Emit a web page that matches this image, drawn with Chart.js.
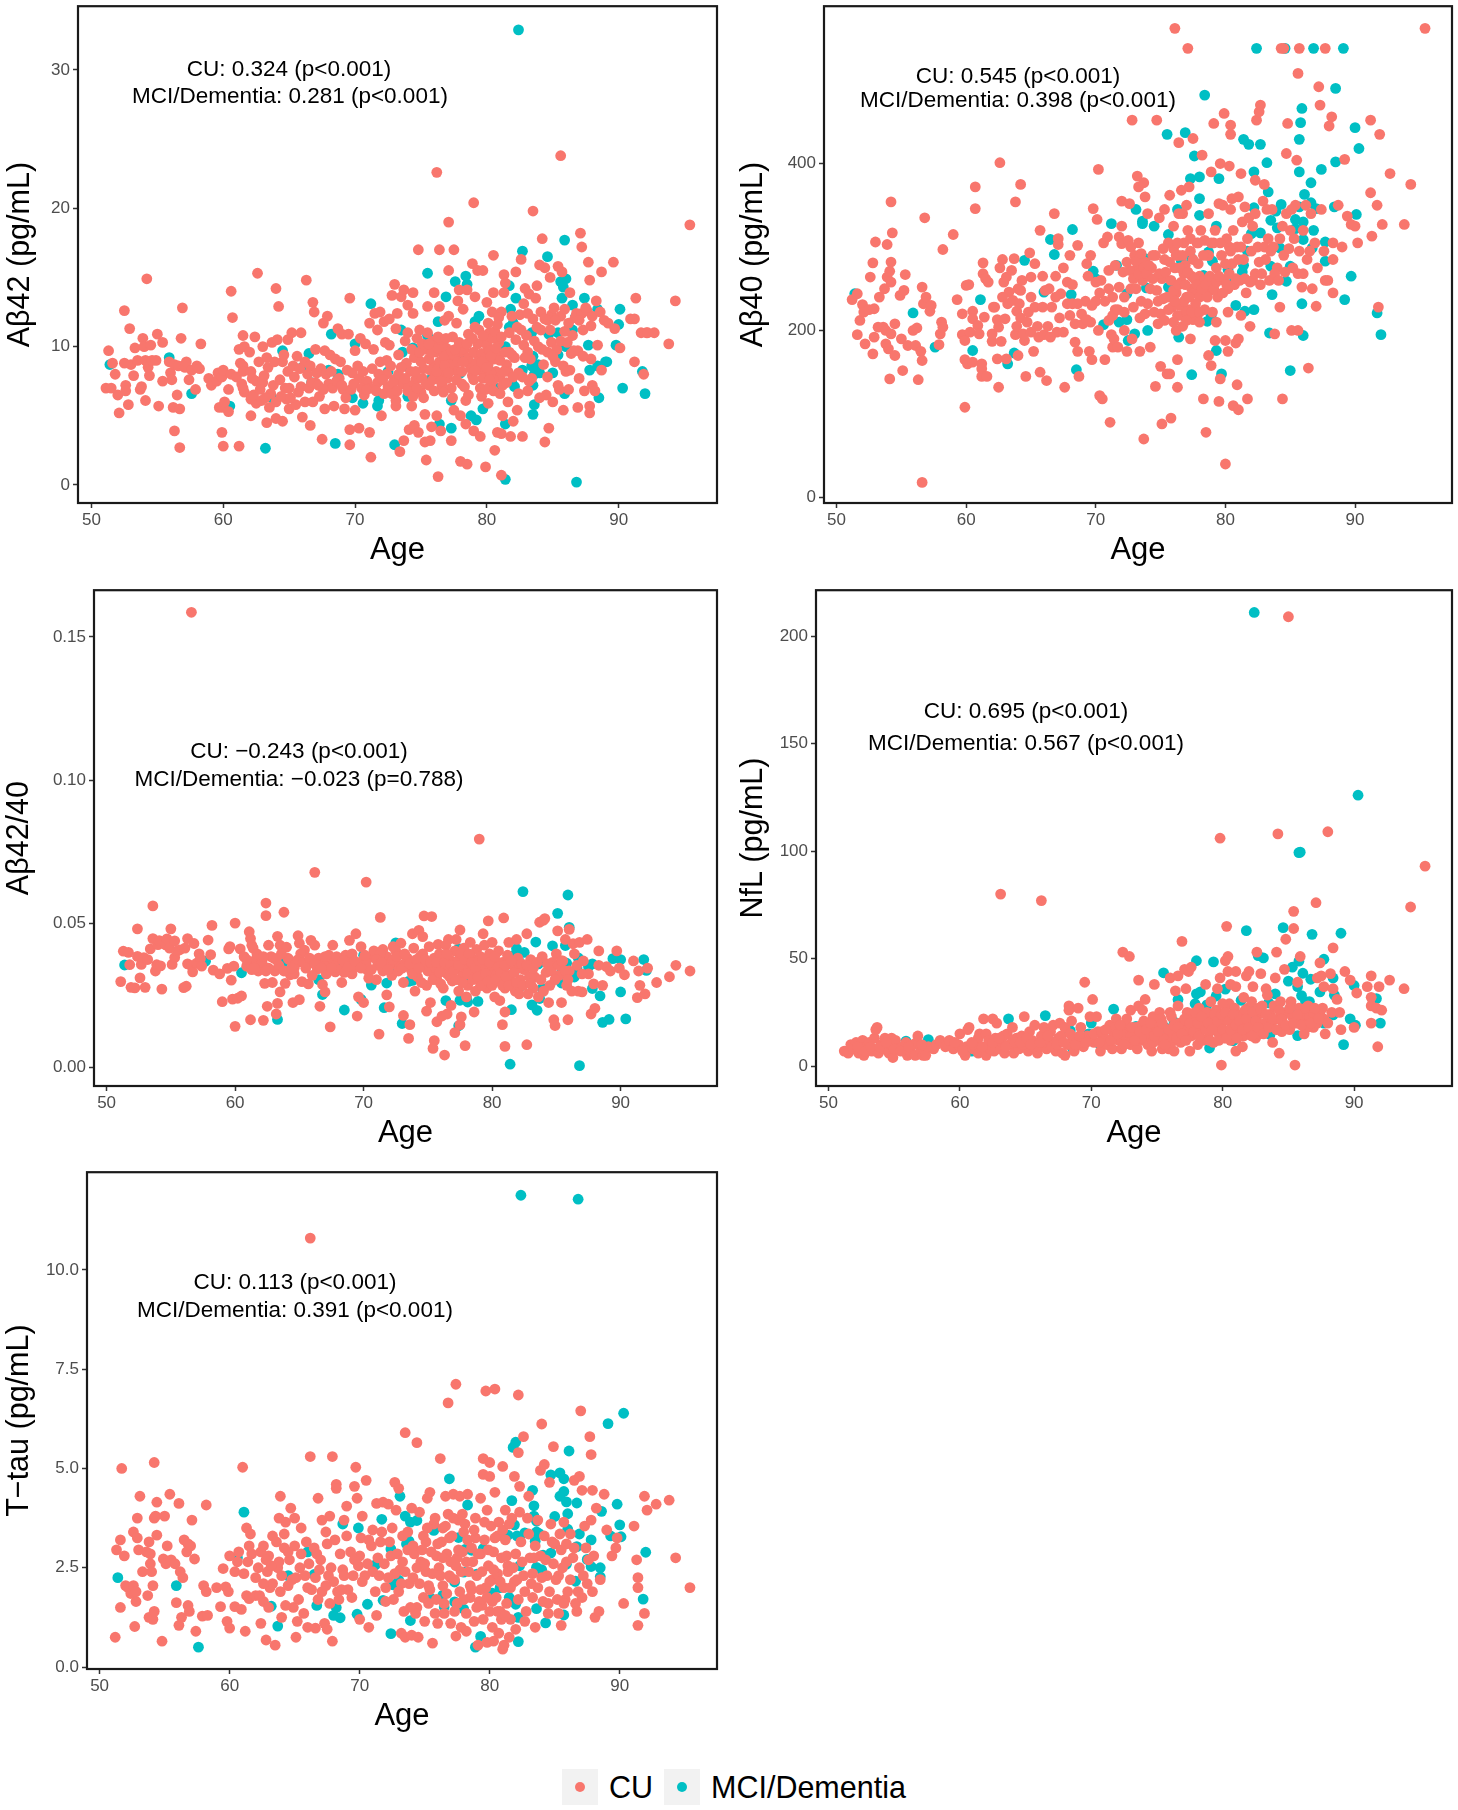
<!DOCTYPE html>
<html>
<head>
<meta charset="utf-8">
<title>Plasma biomarkers by age</title>
<script src="https://cdn.jsdelivr.net/npm/chart.js@4"></script>
<style>
  html, body { margin: 0; padding: 0; background: #fff; }
  body { position: relative; width: 1458px; height: 1810px; overflow: hidden; font-family: "Liberation Sans", sans-serif; }
  canvas { position: absolute; }
  .key { position: absolute; top: 1769px; width: 36px; height: 36px; background: #f2f2f2; }
  .key i { position: absolute; left: 13px; top: 13px; width: 10px; height: 10px; border-radius: 50%; }
  .keytext { position: absolute; top: 1769px; line-height: 36px; font-size: 30.5px; color: #000; }
</style>
</head>
<body>
<div class="key" style="left:562px"><i style="background:#F8766D"></i></div>
<div class="keytext" style="left:609px">CU</div>
<div class="key" style="left:664px"><i style="background:#00BFC4"></i></div>
<div class="keytext" style="left:711px">MCI/Dementia</div>
<script>
const ageTicks = [50, 60, 70, 80, 90];
const abeta42Ticks = [0, 10, 20, 30];
const abeta40Ticks = [0, 200, 400];
const ratioTicks = [0, 0.05, 0.10, 0.15];
const nflTicks = [0, 50, 100, 150, 200];
const ttauTicks = [0, 2.5, 5, 7.5, 10];

// values, [age, value]
const abeta42CU = [
[51.1,7],[51.5,7],[51.3,9.7],[51.6,8.8],[51.8,8],[52,6.5],[52.1,5.2],[52.5,12.6],[52.5,8.8],[52.6,7.2],[52.6,6.8],[52.8,5.8],[52.9,11.3],[53,8.7],[53.3,9.9],[53.5,9],[53.2,7.9],[53.7,6.9],[53.8,7.1],[53.9,10.6],[54,10],[54.1,9],[54.2,14.9],[54.1,6.1],[54.3,8.5],[54.4,7.9],[54.5,10.1],[54.6,9],[54.9,9],[55,10.9],[55.1,5.7],[55.4,10.3],[55.4,7.5],[55.9,8.9],[56,8.1],[56.1,7.6],[56.2,5.6],[56.3,8.7],[56.3,3.9],[56.5,6.5],[56.6,8.6],[56.7,5.5],[56.7,2.7],[56.8,10.6],[56.9,12.8],[57.1,8.5],[57.2,8.9],[57.4,7.6],[57.6,8.3],[57.9,6.9],[58,8.6],[58.2,8.4],[58.3,10.2],
[58.9,7.7],[59.1,7.2],[59.5,7.5],[59.6,8.1],[59.9,7.8],[60,8.3],[59.7,5.6],[59.9,3.8],[60,5.6],[60.1,6],[60,2.8],[60.4,6.9],[60.4,5.3],[60.6,14],[60.6,8],[60.7,12.1],[61,7.8],[61.2,9.8],[61.2,2.8],[61.3,8.8],[61.4,7.3],[61.5,8.6],[61.6,10],[61.6,6.7],[61.5,7],[61.5,8.2],[61.5,10.8],[62,9.6],[62.1,8.2],[62.1,6.2],[62.1,5],[62.4,10.7],[62.2,7.7],[62.5,7.5],[62.6,15.3],[62.5,5.9],[62.7,8.9],[62.9,6.1],[63,10],[63,7.4],[63.3,4.5],[63.3,9.2],[63.4,8.5],[63.7,10.3],[63.8,7.2],[64,14.2],[64.1,10.5],[64,6],[64,4.8],[64.2,12.9],[64.5,8.9],[64.5,4.6],[64.7,7],[64.9,10.5],[64.9,8.2],[65,7],[65,5.5],[65.2,11],[65.5,5.8],[65.6,9.3],[65.9,11],[65.9,7.1],[66,4.9],[66.3,14.8],[66.2,8.9],[66.2,6],[66.6,4.3],[66.6,8.6],[66.8,13.2],[66.8,6],[66.9,12.5],[67,9.8],[67,7.4],[67.4,8.4],[67.5,3.3],[67.6,11.7],[67.7,5.5],[67.7,9.7],[67.9,12.2],
[63.1,7.9],[63.6,6.6],[63.9,8.9],[64.3,7.6],[64.6,9.4],[64.8,6.2],[65.3,8.6],[65.4,7.8],[65.7,6.7],[66.4,8],[66.5,7],[67.1,8.1],[67.3,6.4],[67.8,8],[68,7.3],[68.1,9.4],[68.3,7],[68.4,5.7],[68.5,9.1],[68.7,11.3],[68.8,7.7],[68.9,8.9],[69,10.9],[69.1,6.9],[69.2,5.5],[69.4,8.3],[69.5,10.9],[69.6,13.5],[69.6,4],[69.6,2.9],[69.7,6.9],[69.8,8.1],[70,9.7],[70,5.4],[70.3,7.7],[70.3,4.1],[70.4,10.6],[70.6,8.2],[70.7,6.5],[70.8,10.2],[70.9,7.5],[71.1,11.7],[71.2,7],[71.1,3.8],[71.2,2],[71.4,9.8],[71.5,12.4],[71.7,11.2],[71.7,7.4],[71.9,8.9],[71.9,12.5],[72,5],[72.2,11.8],[72.3,10.3],[72.4,8],[72.5,7.1],[72.6,10.1],[72.6,12],[72.8,13.7],[73,14.5],[73,7.6],[73.1,11.3],[73.1,5.7],[73.1,6.1],[73.2,12.4],[73.3,9.4],[73.4,2.4],[73.5,13.6],[73.6,7.3],[73.7,14.1],[73.7,3.2],[73.8,10.4],[74,11],[74,13],[74.1,4],[74.2,8.2],[74.3,5.7],[74.4,12.4],[74.4,13.9],[74.5,4.3],[74.5,9.2],[74.6,7.6],[74.7,10.6],[74.8,17],[74.8,3.8],[74.9,11.2],[75,6.7],[75.2,8.4],[75.3,3.1],[75.4,9.8],[75.3,5.1],[75.4,1.8],[75.5,12.9],[75.5,11],[75.6,7.2],[75.7,3.2],[75.8,4.2],[75.9,10.4],[76,13.9],[76,8.6],[76.1,9.6],[76.2,22.6],[76.2,5],[76.3,0.6],[76.4,17],[76.4,12.9],[76.5,3.9],[76.6,10.1],[76.6,7.2],[76.7,9.4],[76.8,11.9],[76.9,8.2],[76.9,9.9],[77.1,19],[77.1,15.5],[77.1,12.2],[77.2,9.3],[77.3,3.2],[77.3,7],[77.4,10.7],[77.5,17],[77.5,5.4],[77.6,8.3],[77.7,11.7],[77.9,14.1],[77.8,13.3],[78,9.6],[78,5],[78,1.7],[78.1,7.3],[78.2,12.7],[78.4,4.4],[78.4,6.1],[78.5,1.5],[78.5,14.1],[78.6,10.9],[78.7,8.7],[78.9,16],[78.9,7.9],[79,20.4],[79,3.9],[79.1,13.6],[79.1,11.4],[79.3,15.5],[79.4,9.3],[79.5,3.5],[79.6,6.4],[79.7,15.5],[79.8,10.4],[79.9,1.3],[79.9,8.1],[80,13.2],[80.1,5.9],[80.2,11],[80.3,7.3],[80.4,12.5],[80.5,16.6],[80.5,13.9],[80.6,9.1],[80.6,2.5],[80.7,8.2],[80.8,3.8],[80.9,10.3],[81,7.8],[81.1,12.5],[81.1,3.7],[81.1,0.7],[81.2,5],[81.3,13.9],[81.3,15.2],[81.4,14.6],[81.5,8.7],[81.6,6],[81.7,11],[81.8,3.5],[82,4.6],[82.1,9.2],[82.2,15.4],[82.3,5.4],[82.5,12.3],[82.6,16.3],[82.7,3.5],[82.7,7.8],[82.8,13.1],[82.9,14.2],[83,10.8],[83.1,6.8],[83.2,13.8],[83.3,9.1],[83.5,19.8],[83.5,12],[83.7,13.5],[83.8,14.4],[84,15.9],[84.1,11.2],[84.2,17.8],[84.4,15.7],[84.4,3.1],[84.5,6.5],[84.6,9.6],[84.7,4.1],[84.8,15],[84.9,12.3],[85,6],[85.2,8.9],[85.4,15.8],[85.5,6.9],[85.6,23.8],[85.7,15.4],[85.8,5.4],[85.9,11.1],[86,8.2],[86.2,6.9],[86.3,13.9],[86.4,9.5],[86.7,12.1],[86.9,5.6],[86.9,9.7],[87,7.7],[87.1,18.2],[87.2,17.2],[87.3,11.2],[87.4,6.8],[87.7,16.1],[87.8,14.8],[87.8,5.7],[87.8,5.2],[87.9,9.1],[88,7.2],[88.2,6.8],[88.3,13.3],[88.4,10.1],[88.7,15.4],[88.7,8.3],[88.9,11.9],[89.2,11.7],[89.6,16.1],[89.7,11.3],[90.1,9.9],[90.9,12],[91.2,12],[91.2,8.9],[91.3,13.5],[91.9,8],[91.7,11],[92.1,11],[92.2,11],[92.7,11],[93.8,10.2],[94.3,13.3],[95.4,18.8],
[72.7,8.6],[72.9,7.4],[73.3,8],[73.9,8.8],[74.1,7.2],[74.6,8.2],[75,8.9],[75.1,7.7],[75.6,9.1],[75.7,8.3],[75.8,9.6],[76.1,7.8],[76.3,9.9],[76.4,8.9],[76.5,10.5],[76.7,8],[76.8,9.3],[77,7.7],[77.2,8.7],[77.5,9.4],[77.8,8.9],[78.1,8.2],[78.3,9.8],[78.6,9.2],[78.8,8.4],[79,9.6],[79.2,8.8],[79.3,10.2],[79.5,8.3],[79.6,9.5],[79.7,7.7],[79.9,9.2],[80,10.1],[80.1,8.7],[80.2,9.7],[80.3,8.1],[80.4,10.6],[80.5,7.6],[80.6,11.1],[80.8,9.4],[80.9,12.1],[81,9],[81.2,7.2],[81.4,9.6],[81.6,8.2],[81.9,9.4],[82.3,11.4],[82.4,8.1],[82.8,10.1],[83.1,9.6],[83.4,7.7],[83.8,11.4],[84.1,12.5],[84.3,8.7],[84.6,11.9],[84.9,10.3],[85.1,12.8],[85.3,9.8],[85.6,12.2],[85.9,12.7],[86.2,11.7],[86.5,10.8],[86.8,12.4],[87.2,12.4],[87.6,12.6],[88,12.2],[88.6,12.5],
[62.3,6.5],[62.8,6.9],[63.2,6.3],[63.5,5.6],[64.4,6.4],[65.1,6.3],[65.8,8.4],[66.7,7.4],[67.2,7.2],[67.6,6.9],[68.2,8.2],[68.6,7.5],[69,7.2],[69.3,6.3],[69.9,7.3],[70.2,8.6],[70.5,7],[70.9,6.9],[71.3,8.4],[71.6,6.8],[71.8,8],[72.1,7.6],[72.2,6.6],[72.4,9],[72.8,6.6],[73.2,6.8],[73.5,8.5],[73.8,7.7],[74,6.8],[74.3,9.8],[74.4,6.4],[74.7,7],[74.9,9.6],[75.1,10.2],[75.2,6.3],[75.4,7.3],[75.6,10.2],[75.9,7.6],[76,6.8],[76.2,8.2],[76.3,10.7],[76.5,7.5],[76.7,6.7],[76.8,8.6],[76.9,10.6],[77.1,8.1],[77.3,9.7],[77.4,6.3],[77.6,9.8],[77.7,7.6],[77.9,10.3],[78.2,8.9],[78.3,7.1],[78.5,10.2],[78.6,6.5],[78.9,10.6],[79,7.6],[79.1,8.3],[79.4,11.2],[79.5,7],[79.6,8.9],[79.7,10.8],[79.9,6.9],[80,8.5],[80.1,11.7],[80.2,7.6],[80.3,9.3],[80.5,6.8],[80.7,9.9],[80.8,11.6],[81,6.6],[81.1,10.7],[81.3,8.2],[81.5,7.4],[81.7,9.6],[81.9,12.2],[82,7.8],[82.2,10.5],[82.4,6.6],[82.6,11.2],[82.9,9.2],[83.1,12.4],[83.2,7.5],[83.6,10.4],[83.9,10],[84,6.3],[84.2,9.8],[84.4,12],[84.6,7.8],[84.8,11.2],[85,9.3],[85.2,11.9],[85.4,7.2],[85.6,10.4],[85.8,8.6],[86.1,10.3],[86.3,8.3],[86.6,9.7],[87,11.9],[87.3,9.3],[87.5,12.8],[87.9,11.5]
];
const abeta42MCI = [
[51.4,8.7],[55.9,9.2],[57.6,6.6],[60.5,5.7],[63.7,6.3],[63.2,2.65],[64.5,9.7],[66,8.5],[66.5,9.5],[66.7,7.4],[68,8.3],[68.2,10.9],[68.5,3],[68.7,8],[69.8,6.3],[70,10.2],[70.6,5.9],[71.2,13.1],[71.7,5.7],[71.8,6.1],[73,2.9],[72.5,8.2],[73.5,11.2],[73.6,9.6],[73.8,8.6],[74,6.4],[74.4,9.9],[75.5,15.3],[75.5,10.8],[75.7,7.6],[76.4,4.4],[76.4,8.6],[76.3,11.8],[76.9,13.6],[77.3,6.1],[77.3,4.1],[77.3,8.9],[77.6,14.7],[78.4,15.1],[78.5,14.5],[78,10.1],[78,9.3],[78,8.1],[78.8,5],[79.2,4.7],[79.1,11.8],[79.4,12.2],[79.7,5.5],[80.2,8.2],[80.7,7],[81.4,10],[81.4,4.4],[81.4,0.4],[82.4,32.9],[81.7,14.4],[82.2,13.5],[81.8,12.7],[81.7,11.4],[82,11.7],[81.9,7.4],[82.1,7.1],[82.7,16.9],[82.7,8.3],[83.4,11],[83.5,9.3],[83.4,8.6],[83.6,8],[83.5,7.2],[83.5,5.1],[83.6,5.8],[83.9,8.7],[84,8.1],[84.6,16.5],[84.7,10.9],[85,8.1],[85.4,11],[85.4,9.4],[85.6,14.7],[85.9,17.7],[86,14.9],[85.8,14.3],[85.7,13.5],[85.9,6.6],[86,10],[86.5,13],[86.5,11.2],[86.8,0.2],[86.7,12.1],[86.2,11.2],[87.4,13.5],[87.7,10.1],[87.8,8.3],[88.4,12.7],[88.5,6.3],[88.4,8.6],[89.1,8.9],[89,8.9],[89.8,10.1],[90,11.6],[90.1,12.7],[90.3,7],[91.8,8.2],[92,6.6]
];
const abeta40CU = [
[51.2,237],[51.6,244],[51.6,195],[51.8,212],[52,231],[52.1,222],[52.2,184],[52.5,225],[52.6,264],[52.8,281],[52.8,172],[52.9,192],[52.9,226],[53,306],[53.2,204],[53.3,240],[53.6,204],[53.7,250],[53.8,200],[53.8,184],[53.9,303],[53.9,264],[54,178],[54.1,271],[54.1,142],[54.2,282],[54.2,196],[54.2,258],[54.2,354],[54.3,317],[54.5,170],[54.5,208],[54.9,242],[55,190],[55.1,152],[55.2,248],[55.3,267],[55.5,182],[55.9,200],[56.1,182],[56.2,203],[56.3,141],[56.5,175],[56.6,252],[56.6,18],[56.6,164],[56.7,232],[56.8,335],[56.9,240],[57.2,223],[57.3,230],[57.9,183],[58,196],[58.1,210],[58.2,204],[58.2,297],[59,315],[59.3,237],[59.7,220],[59.7,195],[59.9,188],[59.9,165],[59.9,108],[60,254],[60.1,160],[60.2,255],[60.3,198],[60.5,162],[60.5,223],[60.5,214],[60.7,372],[60.7,346],[60.9,206],[61,196],[61.2,160],[61.2,154],[61.2,145],[61.3,268],[61.3,281],[61.4,216],[61.5,262],[61.6,145],[61.7,258],[62,187],[62,196],[62.1,228],[62.2,228],[62.4,213],[62.4,166],[62.5,204],[62.5,132],[62.6,275],[62.6,401],[62.7,187],[62.8,285],[62.9,258],[63,214],[63.1,264],[63.1,166],[63.3,246],[63.5,272],[63.7,286],[63.8,195],[63.8,354],[63.9,223],[64,250],[64,170],[64.2,215],[64.2,248],[64.2,375],[64.3,260],[64.5,188],[64.6,145],[64.7,210],[64.9,293],[65,240],[65,264],[65.2,175],[65.3,280],[65.5,205],[65.7,150],[65.7,320],[65.9,265],[66,195],[66.2,140],[66.3,205],[66.4,250],[66.6,228],[66.8,340],[66.9,265],[67,198],[67.1,310],[67.1,303],[67.3,244],[67.5,275],[67.6,132],[67.8,258],[68,218],[68,290],[68.2,255],[68.4,186],[68.4,208],[68.6,302],[68.6,175],[68.7,145],[69,208],[69.2,235],[69.3,280],[69.4,265],[69.5,175],[69.6,290],[69.6,210],[69.7,165],[69.8,346],[70,235],[70.1,333],[70.2,200],[70.2,393],[70.3,122],[70.5,118],[70.6,305],[70.7,165],[70.9,312],[71,212],[71.1,90],[71.2,195],[71.3,180],[71.4,190],[71.5,225],[71.5,278],[71.7,180],[71.8,312],[72,304],[72,325],[72,355],[72.1,270],[72.2,200],[72.4,175],[72.5,308],[72.6,352],[72.7,250],[72.8,190],[72.8,452],[73,270],[73.1,250],[73.2,385],[73.3,372],[73.3,305],[73.4,175],[73.5,235],[73.7,377],[73.7,70],[73.8,360],[73.8,220],[74,340],[74.2,180],[74.4,290],[74.6,133],[74.7,452],[74.8,208],[74.9,335],[75,157],[75.1,88],[75.2,238],[75.3,345],[75.5,148],[75.7,362],[75.7,148],[75.8,95],[76,298],[76.1,562],[76.2,200],[76.3,132],[76.3,165],[76.4,425],[76.6,368],[76.7,340],[76.8,268],[77,350],[77.1,538],[77.2,372],[77.3,190],[77.4,250],[77.5,430],[77.8,215],[78,265],[78.2,410],[78.3,118],[78.4,308],[78.5,78],[78.7,170],[78.7,290],[78.9,158],[78.9,390],[79.1,448],[79.2,188],[79.3,210],[79.5,115],[79.6,142],[79.6,400],[79.8,350],[79.9,460],[80,40],[80,188],[80.2,175],[80.3,300],[80.3,397],[80.4,446],[80.4,435],[80.5,358],[80.6,110],[80.8,185],[80.9,135],[81,105],[81,190],[81.2,388],[81.5,348],[81.7,118],[81.9,205],[82.3,380],[82.4,452],[82.6,462],[82.7,470],[83,375],[83.3,310],[83.8,196],[84.2,228],[84.4,118],[84.3,538],[84.5,538],[84.7,412],[84.8,448],[85.1,200],[85.6,200],[85.6,508],[85.7,538],[85.5,404],[85.9,252],[86.4,155],[86.7,250],[87,229],[87.2,492],[87.3,470],[87.7,538],[87.7,260],[88,445],[88.2,456],[88.3,245],[88.3,305],[89.2,405],[89.4,337],[89.7,327],[90,325],[90.2,305],[91.2,365],[91.2,452],[91.3,313],[91.7,350],[91.8,228],[91.9,435],[92.1,327],[92.7,388],[93.8,327],[94.3,375],[95.4,562],
[70.4,260],[71,272],[71.3,240],[71.8,252],[72.2,240],[72.4,282],[72.7,300],[73,290],[73.2,275],[73.6,260],[73.8,282],[74,265],[74.2,250],[74.3,275],[74.6,290],[74.8,235],[75,220],[75.1,262],[75.3,285],[75.5,240],[75.6,305],[75.8,260],[75.9,228],[76,325],[76.1,275],[76.2,245],[76.3,218],[76.4,340],[76.4,290],[76.5,230],[76.6,258],[76.7,205],[76.8,305],[76.9,278],[77,240],[77.1,320],[77.2,225],[77.3,295],[77.4,265],[77.5,213],[77.6,245],[77.8,305],[77.9,280],[78,240],[78.1,320],[78.3,260],[78.4,225],[78.6,290],[78.7,340],[78.8,248],[79,260],[79.1,305],[79.2,320],[79.3,275],[79.4,240],[79.5,352],[79.7,290],[79.9,260],[80.1,310],[80.2,250],[80.4,345],[80.5,280],[80.7,255],[80.9,300],[81,360],[81.1,260],[81.3,330],[81.4,285],[81.6,245],[81.8,335],[82,295],[82.1,260],[82.3,340],[82.5,300],[82.7,255],[82.9,355],[83.1,285],[83.4,260],[83.6,345],[83.7,300],[84,275],[84.2,310],[84.5,290],[84.7,340],[85,320],[85.2,275],[85.4,350],[85.7,295],[86,320],[86.3,285],[86.6,340],[86.9,305],[87.1,275],[87.4,345],[87.6,295],[87.9,260],[88.3,285],[88.7,350],[89,300],
[62.8,240],[63.2,232],[63.6,236],[63.9,205],[64.1,232],[64.4,196],[64.8,222],[65,198],[65.3,228],[65.6,192],[65.9,228],[66.1,248],[66.5,192],[66.9,240],[67.2,215],[67.5,198],[67.8,232],[68.2,232],[68.6,232],[68.9,220],[69.3,213],[69.7,230],[70,258],[70.3,245],[70.7,235],[71,250],[71.3,218],[71.7,225],[72.2,222],
[72.6,272],[72.9,262],[73.1,283],[73.3,268],[73.5,292],[73.7,275],[73.9,268],[74.1,278],[74.4,262],[74.7,248],[74.9,268],[75.2,298],[75.4,270],[75.6,225],[75.7,282],[75.8,240],[76,248],[76,210],[76.2,290],[76.3,305],[76.4,255],[76.5,275],[76.6,218],[76.7,290],[76.8,235],[76.9,255],[77,222],[77.1,270],[77.2,240],[77.3,310],[77.4,222],[77.5,285],[77.6,262],[77.7,232],[77.8,255],[77.9,305],[78,222],[78.2,250],[78.3,290],[78.5,255],[78.6,240],[78.8,265],[78.9,305],[79.1,250],[79.3,258],[79.5,265],[79.6,305],[79.8,245],[80,280],[80.1,255],[80.3,268],[80.4,295],[80.6,320],[80.8,262],[81,285],[81.2,300],[81.5,262],[81.7,310],[81.9,258],[82.1,325],[82.3,268],[82.6,282],[82.8,268],[83,300],[83.2,345],[83.5,295],[83.8,268],[84.1,260],[84.4,325],[84.6,270],[84.9,298],[85.1,345],[85.3,310],[85.6,268],[86,268],[86.2,350],[86.5,295],[74.5,222],[75.3,212],[74,232],[73.4,215],[72.9,228],[76.1,235],[77,212],[78,210],[79,222],[80.2,222],[81.2,218]
];
const abeta40MCI = [
[51.4,244],[55.9,221],[57.6,180],[60.5,176],[61.1,237],[63.2,160],[63.7,173],[64.5,284],[66,246],[66.5,309],[66.8,291],[68.2,321],[68.1,243],[68.5,153],[69.8,271],[70,262],[70.6,207],[71.2,328],[71.6,278],[71.8,210],[72.4,213],[72.4,244],[72.5,188],[73,196],[73.1,345],[73.6,328],[73.6,331],[73.8,286],[73.9,251],[74,200],[74.5,325],[75.5,435],[75.6,315],[75.6,252],[76.3,345],[76.4,192],[76.9,437],[76.6,283],[77.4,147],[77.4,286],[77.3,382],[77.6,409],[78,384],[78,358],[78,338],[78.4,482],[78.3,266],[77.5,223],[78.6,211],[78.9,218],[78.7,294],[79.3,325],[79.3,176],[79.5,382],[79.7,148],[79,283],[80.2,273],[80.7,260],[80.8,230],[81.4,429],[81.8,423],[81.4,278],[81.3,270],[81.5,223],[81.7,295],[82,316],[82.2,390],[82.2,347],[82.2,225],[82.4,538],[82.7,317],[82.7,423],[83.2,401],[83.3,366],[83.4,197],[83.5,277],[83.6,243],[83.5,332],[83.9,343],[84,323],[84.2,299],[84.3,351],[84.6,538],[84.7,259],[85,277],[85,152],[85.4,333],[85.4,322],[85.7,429],[85.7,348],[85.7,390],[85.8,449],[85.9,466],[85.9,232],[86,194],[86,330],[86.1,363],[86,309],[86.6,353],[86.6,377],[86.8,538],[86.8,320],[86.7,299],[87,346],[87.4,393],[87.7,283],[87.7,306],[88.5,490],[88.5,402],[88.4,348],[89.1,538],[89.2,237],[89.7,265],[90,443],[90.1,339],[90.3,418],[91.7,221],[92,195]
];
const ratioCU = [
[51.1,.0298],[51.3,.0404],[51.7,.04],[51.8,.0357],[51.9,.0278],[52.2,.0276],[52.4,.0386],[52.4,.0482],[52.6,.0311],[52.7,.0358],[52.9,.0382],[53,.0278],[53.2,.0375],[53.4,.0412],[53.6,.0448],[53.6,.0562],[53.8,.0335],[53.9,.0357],[54,.0427],[54.1,.0441],[54.2,.0353],[54.3,.0272],[54.6,.0426],[54.7,.0447],[54.9,.0415],[55,.0482],[55.1,.0358],[55.3,.044],[55.3,.0382],[55.5,.0405],[55.7,.0409],[56,.0277],[56.1,.0415],[56.2,.0282],[56.3,.0448],[56.3,.036],[56.6,.1586],[56.6,.0354],[56.7,.0332],[56.8,.0431],[57,.0362],[57.2,.0395],[57.3,.0378],[57.4,.0352],[57.9,.0443],[58.1,.0392],[58.2,.0494],[58.3,.0338],[58.8,.0325],[59,.0228],[59.4,.0344],[59.5,.0412],[59.6,.042],[59.7,.0303],[59.8,.0237],[59.9,.0352],[60,.0502],[60,.0142],[60.2,.024],[60.4,.0412],[60.5,.0248],[60.7,.0385],[60.9,.0352],[61,.0358],[61.1,.0472],[61.2,.0165],[61.2,.0448],[61.3,.0425],[61.4,.0415],[61.6,.0375],[61.8,.0335],[62,.0345],[62.2,.0163],[62.3,.0292],[62.4,.0572],[62.4,.0528],[62.5,.0212],[62.6,.0425],[62.8,.0385],[62.9,.0295],[63.1,.0335],[63.2,.0185],[63.3,.0222],[63.3,.0456],[63.5,.0425],[63.5,.0262],[63.8,.054],[63.9,.0292],[64,.0418],[64.1,.038],[64.3,.0322],[64.5,.0225],[64.6,.0345],[64.9,.0458],[65,.0432],[65,.0235],[65.2,.0298],[65.4,.0408],[65.7,.029],[65.9,.0442],[66,.0368],[66.2,.0679],[66.2,.0425],[66.4,.0342],[66.6,.0212],[66.8,.0288],[67,.0262],[67.2,.0355],[67.4,.014],[67.6,.0425],[67.8,.0332],[68.1,.0378],[68.3,.0295],[68.6,.039],[68.9,.0442],[69.1,.0325],[69.4,.0465],[69.5,.0178],[69.6,.0245],[69.8,.042],[70,.0225],[70.2,.0645],[70.3,.0338],[70.6,.0385],[71,.0305],[71.2,.0115],[71.3,.0522],[71.5,.041],[71.8,.0252],[72,.021],[72.3,.042],[72.6,.0355],[72.9,.0432],[73.1,.018],[73.5,.01],[73.6,.0148],[73.8,.0465],[74,.0265],[74.3,.0477],[74.6,.0455],[74.7,.0527],[74.9,.0195],[75.2,.0225],[75.3,.0525],[75.4,.0065],[75.5,.0092],[75.7,.0158],[75.8,.0428],[76.1,.0178],[76.3,.0042],[76.5,.0185],[76.6,.0445],[76.8,.0215],[77.1,.012],[77.2,.0445],[77.5,.0478],[77.5,.0148],[77.6,.0175],[77.9,.0075],[78,.0245],[78.3,.0435],[78.6,.0192],[79,.0795],[79.1,.0285],[79.3,.0465],[79.7,.051],[80,.0435],[80.6,.0232],[80.8,.0148],[80.9,.052],[81,.0072],[81,.0192],[81.3,.0435],[81.9,.0445],[82.7,.0078],[82.7,.0465],[83.2,.0275],[83.7,.0505],[84,.0512],[84.1,.0518],[84.4,.0225],[84.8,.0165],[84.9,.0145],[85.1,.0475],[85.4,.0225],[85.7,.0445],[85.9,.0165],[86,.048],[86.3,.043],[86.8,.0435],[87,.0262],[87.4,.0445],[87.7,.0185],[88,.0205],[88.3,.0405],[88.6,.0285],[88.9,.035],[89.2,.0335],[89.7,.0405],[89.9,.0345],[90.3,.0322],[91,.037],[91.3,.0242],[91.4,.0335],[91.5,.0285],[91.9,.0255],[92.1,.0345],[92.8,.0295],[93.8,.0315],[94.3,.0355],[95.4,.0335],
[60.9,.0375],[61.3,.034],[61.7,.0395],[62.1,.0365],[62.6,.0345],[63,.038],[63.4,.0355],[63.8,.0335],[64.2,.0375],[64.7,.036],[65.1,.0395],[65.5,.0345],[66,.032],[66.5,.038],[66.9,.0355],[67.3,.039],[67.7,.0365],[68.2,.034],[68.7,.037],[69.1,.0395],[69.5,.035],[70,.0375],[70.4,.031],[70.8,.0405],[71.1,.0355],[71.5,.0335],[71.8,.0385],[72.2,.032],[72.5,.0405],[72.8,.0355],[73.1,.0295],[73.4,.038],[73.7,.034],[73.9,.0415],[74.2,.0315],[74.4,.0385],[74.7,.0355],[74.9,.0285],[75.1,.042],[75.3,.0335],[75.5,.038],[75.7,.0305],[75.9,.0395],[76.1,.035],[76.2,.0275],[76.4,.0425],[76.5,.0325],[76.7,.0375],[76.9,.03],[77.1,.0405],[77.2,.0345],[77.4,.0265],[77.5,.038],[77.7,.032],[77.8,.0415],[78,.0355],[78.1,.0285],[78.3,.039],[78.4,.033],[78.6,.0375],[78.7,.0265],[78.8,.041],[79,.0345],[79.1,.0385],[79.3,.031],[79.4,.0425],[79.5,.0355],[79.6,.0275],[79.8,.0395],[79.9,.032],[80.1,.0375],[80.2,.0245],[80.3,.034],[80.5,.0405],[80.6,.0305],[80.8,.0365],[81,.0275],[81.2,.039],[81.4,.032],[81.6,.0355],[81.8,.0265],[82,.038],[82.2,.0305],[82.5,.034],[82.8,.0255],[83,.0375],[83.3,.0315],[83.6,.0245],[83.9,.0385],[84.2,.033],[84.5,.0285],[84.7,.0365],[85,.0395],[85.2,.032],[85.5,.037],[85.8,.0285],[86,.0335],[86.4,.0395],[86.7,.0265],[87.1,.037],[87.5,.0325],[87.9,.029],[88.3,.0355],
[62.2,.0385],[64.6,.0325],[67.1,.0325],[68.5,.033],[70.2,.0365],[71.3,.0395],[72,.036],[72.7,.0335],[73.3,.0365],[74,.0345],[74.6,.0395],[75,.0335],[75.6,.0345],[76,.0385],[76.6,.0355],[77.3,.037],[77.9,.0345],[78.5,.0355],[79.2,.0355],[79.7,.0345],[80,.0355],[80.4,.0325],[80.9,.034],[81.5,.0295],[82.1,.0345],[82.9,.0315],
[61.5,.0345],[62.4,.0335],[63.2,.0375],[63.6,.0395],[64.4,.0345],[64.9,.0375],[65.3,.0365],[65.8,.038],[66.2,.036],[66.7,.0345],[67,.0385],[67.5,.0345],[67.9,.0385],[68.4,.037],[68.8,.035],[69.3,.037],[69.8,.0345],[70.1,.039],[70.6,.034],[71,.0375],[71.4,.0365],[71.9,.034],[72.3,.0375],[72.6,.0385],[73,.0345],[73.2,.0395],[73.6,.036],[73.8,.0325],[74.1,.0375],[74.3,.0345],[74.5,.0295],[74.8,.0375],[75.2,.0365],[75.4,.0305],[75.7,.0365],[75.9,.033],[76,.029],[76.3,.0365],[76.5,.0395],[76.7,.0315],[76.8,.0355],[77,.0335],[77.2,.0305],[77.4,.0355],[77.6,.0395],[77.7,.0295],[77.9,.0375],[78.1,.0325],[78.2,.0395],[78.4,.0365],[78.5,.0305],[78.7,.0345],[78.9,.0315],[79,.037],[79.2,.0285],[79.3,.0375],[79.5,.0325],[79.7,.03],[79.8,.0365],[80,.0285],[80.2,.0385],[80.3,.0305],[80.5,.035],[80.7,.033],[80.8,.0285],[81,.0355],[81.1,.0315],[81.3,.0285],[81.5,.037],[81.7,.033],[81.9,.0295],[82.1,.0255],[82.3,.036],[82.4,.0285],[82.7,.0355],[83,.029],[83.2,.0345],[83.5,.0365],[83.8,.0305],[84,.0265],[84.3,.036],[84.6,.0335],[84.9,.0305],[85.2,.0355],[85.4,.037],[85.7,.0335],[85.9,.0305],[86.2,.0265],[86.6,.0355],[87,.0325]
];
const ratioMCI = [
[51.4,.0356],[57.7,.0369],[60.5,.0329],[63.3,.0166],[63.7,.0362],[66.5,.0305],[66.8,.0253],[68.1,.0343],[68.3,.0341],[68.5,.0199],[69.8,.0236],[70,.039],[70.6,.0286],[71.6,.0207],[71.8,.0293],[72.4,.0353],[72.5,.0433],[73,.0152],[73.5,.0299],[73.8,.0302],[75.5,.0343],[76.4,.0232],[77.4,.0413],[77.4,.0144],[77.5,.0233],[78,.0299],[78,.0242],[78.1,.0227],[78.9,.0229],[79.4,.0318],[80.8,.0305],[81.4,.001],[81.5,.02],[81.6,.0388],[81.8,.034],[81.9,.0413],[82.1,.0369],[82.1,.0277],[82.4,.0612],[82.5,.04],[83.1,.0217],[83.4,.0436],[83.6,.036],[83.5,.0198],[83.7,.0239],[83.9,.0274],[84.7,.0423],[85.1,.0536],[85.4,.0329],[85.4,.0293],[85.7,.0424],[85.8,.0362],[85.9,.06],[86,.0487],[86.4,.0314],[86.6,.0347],[86.7,.0381],[86.8,.0005],[87.5,.035],[87.8,.0274],[87.8,.036],[88.4,.0248],[88.6,.0156],[89.1,.0166],[89.4,.0378],[90,.0375],[90,.0262],[90.4,.0168],[91.8,.0375],[92,.0337]
];
const nflCU = [
[51.2,7],[51.5,6],[51.7,10],[51.9,8],[52.1,11],[52.3,6],[52.5,8],[52.6,12],[52.7,5],[52.9,9],[53.1,11],[53.3,7],[53.5,13],[53.6,17],[53.7,18],[53.8,6],[54,10],[54.2,8],[54.3,13],[54.6,6],[54.8,10],[54.8,13],[54.9,4],[55.1,12],[55.3,8],[55.6,9],[55.9,11],[56,5],[56.2,7],[56.4,10],[56.6,5],[56.7,11],[56.8,14],[57,8],[57.2,5],[57.4,5],[57.6,9],[58,8],[58.2,10],[58.5,12],[58.9,9],[59.2,12],[59.5,8],[59.9,10],[60,15],[60.4,5],[60.5,9],[60.6,17],[60.7,18],[61,8],[61.2,11],[61.4,13],[61.4,6],[61.5,15],[61.8,22],[62,15],[62,5],[62.2,9],[62.2,12],[62.5,22],[62.6,7],[62.7,13],[62.8,20],[63,8],[63.1,80],[63.2,11],[63.4,6],[63.6,15],[63.8,10],[64,18],[64.1,6],[64.3,13],[64.5,8],[64.7,14],[64.9,23],[65,10],[65.2,7],[65.3,16],[65.5,12],[65.7,19],[65.9,6],[66,9],[66.2,77],[66.2,14],[66.4,18],[66.6,8],[66.8,12],[66.9,16],[67.1,19],[67.3,7],[67.5,13],[67.6,20],[67.8,6],[68,5],[68,18],[68.2,10],[68.3,28],[68.3,26],[68.5,21],[68.7,7],[68.9,13],[69,27],[69.2,18],[69.4,9],[69.5,39],[69.7,14],[69.9,23],[70.1,31],[70.2,11],[70.4,23],[70.5,16],[70.7,7],[70.9,13],[71.2,10],[71.4,19],[71.6,8],[71.7,15],[71.9,22],[72.1,12],[72.3,8],[72.4,53],[72.6,18],[72.7,22],[72.9,51],[73,10],[73,26],[73.2,15],[73.5,8],[73.6,40],[73.6,28],[73.8,12],[73.8,19],[73.9,26],[74.1,31],[74.3,10],[74.5,16],[74.6,7],[74.7,23],[74.8,38],[75,12],[75.2,25],[75.4,8],[75.5,18],[75.8,14],[75.9,8],[76,25],[76,41],[76.3,7],[76.4,16],[76.4,35],[76.6,28],[76.6,42],[76.8,11],[76.9,58],[77,18],[77.1,45],[77.2,36],[77.3,25],[77.4,44],[77.5,7],[77.6,46],[77.6,14],[77.8,20],[78.1,10],[78.2,27],[78.4,17],[78.6,22],[78.7,38],[78.9,13],[79.1,30],[79.4,19],[79.6,36],[79.8,41],[79.8,106],[79.9,0.5],[80,24],[80.1,13],[80.2,49],[80.3,65],[80.4,51],[80.4,44],[80.5,29],[80.6,38],[80.8,16],[81,7],[81,44],[81,37],[81.2,22],[81.5,9],[81.6,32],[81.8,42],[81.9,15],[82,44],[82.3,37],[82.5,13],[82.6,53],[82.7,27],[82.9,43],[83,17],[83.3,36],[83.6,24],[83.8,11],[84,41],[84.1,53],[84.2,108],[84.3,6],[84.5,16],[84.7,45],[84.8,59],[85,209],[85.2,30],[85.4,64],[85.4,72],[85.5,0.5],[85.7,39],[85.9,51],[86,22],[86.2,15],[86.5,28],[86.9,18],[87.1,76],[87.2,41],[87.4,48],[87.5,42],[87.6,27],[87.7,37],[87.8,15],[88,109],[88.2,43],[88.4,36],[88.4,55],[88.7,31],[88.9,25],[89,17],[89.3,44],[89.7,40],[90,18],[90.2,34],[91,37],[91.3,20],[91.3,42],[91.3,32],[91.3,28],[91.7,27],[91.8,9],[91.9,37],[92.1,26],[92.7,40],[93.8,36],[94.3,74],[95.4,93],
[71,13],[71.8,18],[72.4,15],[73,14],[73.4,18],[74,21],[74.4,14],[74.9,19],[75.3,22],[75.7,11],[76.2,14],[76.7,20],[77,13],[77.3,17],[77.7,22],[78,15],[78.3,19],[78.5,12],[78.8,25],[79,16],[79.2,21],[79.3,11],[79.5,26],[79.7,15],[79.8,19],[80,29],[80.1,21],[80.3,16],[80.4,24],[80.6,12],[80.7,20],[80.9,27],[81.1,15],[81.2,18],[81.4,24],[81.6,14],[81.7,20],[81.9,27],[82.1,16],[82.2,30],[82.4,19],[82.6,23],[82.8,15],[83,28],[83.2,20],[83.4,33],[83.7,19],[83.9,28],[84.2,22],[84.4,30],[84.6,19],[84.9,25],[85.1,17],[85.3,23],[85.6,20],[85.8,27],[86.1,24],[86.4,18],[86.6,23],[86.9,25],[87.2,20],[87.4,24],[87.7,22],[88,20],[88.3,25],[67.2,11],[67.7,14],[68.6,13],[69.3,11],[70,13],[70.6,11],[64.8,10],[64,12],[63.3,14],[62.3,8],[61,10],[66.4,11],[65.6,9],[72.8,11],[73.8,13],[74.7,11],[75.5,13],[76.1,11],[76.8,14],
[52.2,9],[52.8,7],[53.2,9],[53.9,9],[54.4,11],[55,8],[55.5,7],[56.1,9],[57.1,10],[59.6,11],[60.2,7],[60.9,11],[61.7,9],[62.5,11],[63,13],[63.5,9],[64.2,11],[64.6,11],[65.1,13],[65.4,10],[66.1,11],[66.7,14],[67,9],[67.4,10],[67.9,11],[68.4,15],[68.8,10],[69.1,14],[69.6,11],[70.2,15],[70.8,16],[71.1,17],[71.5,12],[72,15],[72.2,19],[72.5,10],[73.1,18],[73.3,12],[73.7,16],[74.2,17],[74.5,20],[74.8,14],[75.1,16],[75.4,20],[75.6,10],[75.9,17],[76.1,23],[76.3,19],[76.5,13],[76.6,18],[76.9,15],[77.1,22],[77.2,12],[77.5,20],[77.8,16],[77.9,25],[78.1,20],[78.2,14],[78.4,23],[78.7,17],[78.9,20],[79,12],[79.2,17],[79.4,24],[79.6,21],[79.7,12],[79.9,24],[80,17],[80.2,25],[80.3,13],[80.5,21],[80.6,17],[80.8,24],[81,19],[81.1,13],[81.3,21],[81.5,17],[81.7,26],[81.8,22],[82,18],[82.2,14],[82.3,25],[82.5,21],[82.7,18],[82.9,26],[83.1,15],[83.3,24],[83.5,18],[83.8,22],[84.1,17],[84.3,26],[84.5,22],[84.8,19],[85.1,27],[85.4,20],[85.7,24],[86,19],[86.3,27],[86.7,20],[87,27],[87.3,22]
];
const nflMCI = [
[51.4,7],[55.9,11.6],[57.6,12.3],[60.9,7],[63.7,22],[66.5,23.5],[68.1,17],[68.4,16.5],[68.6,8],[69.8,15],[70,20],[70.6,10.5],[71.7,26.5],[72.3,17],[73.4,18.5],[75.5,43.4],[75.6,18],[76.3,20.6],[76.6,31],[77.3,15.4],[77.4,22.3],[78,49],[78,33.6],[77.9,29],[78.3,34.5],[78.8,28.5],[79,8.4],[79.3,48.5],[79.5,32.6],[80.2,35.8],[80.8,11.8],[81.4,30.6],[81.8,63],[82.1,18.8],[82.3,26],[82.4,211],[82.1,24.3],[82.7,51.4],[83.1,50.3],[83.5,29.4],[83.6,22.6],[83.6,14.7],[84,33.6],[84.6,64.4],[84.7,24.7],[85,39.5],[85.3,46],[85.7,14.2],[85.8,99.3],[85.9,99.5],[85.7,37],[85.8,48.8],[85.6,26],[86.1,43.2],[86,32.8],[86.3,30],[86.6,30],[86.8,61.3],[86.7,40.4],[87.7,49.7],[87.4,34.5],[87.7,20],[88.4,41],[88.4,23.8],[88.5,33],[89,61.8],[89.2,10],[89.7,22],[90,37.5],[90.1,19],[90.3,126],[91.7,31.4],[92,20]
];
const ttauCU = [
[51.2,.75],[51.3,2.95],[51.6,3.2],[51.6,1.5],[51.7,5],[51.9,2.8],[52,2.05],[52.2,2],[52.4,1.85],[52.6,2.05],[52.6,3.4],[52.7,1.02],[52.8,1.9],[52.8,1.65],[52.9,3.25],[52.9,3.75],[53,2.95],[53.1,4.3],[53.3,2.4],[53.6,2.9],[53.7,1.8],[53.8,3.15],[53.8,1.25],[53.9,2.85],[53.9,2.6],[54,2.4],[54.1,2.05],[54.1,1.2],[54.2,1.4],[54.2,5.15],[54.2,3.75],[54.3,3.8],[54.4,3.32],[54.4,4.15],[54.8,.65],[54.9,2.72],[55,3.8],[55.1,2.6],[55.2,3.05],[55.4,4.35],[55.5,2.7],[55.8,2.6],[55.9,1.62],[56.1,4.12],[56.1,1.05],[56.2,2.4],[56.3,1.25],[56.4,2.25],[56.5,3.2],[56.7,2.9],[56.8,3.1],[56.8,1.55],[56.9,1.4],[57,3.05],[57.1,3.7],[57.3,2.72],[57.4,.9],[57.9,1.28],[58,2.05],[58.2,1.9],[58.2,4.08],[58.3,1.3],[59,2],[59.3,1.52],[59.5,2.48],[59.7,2.02],[59.8,1.15],[59.9,1.9],[60,.98],[60,2.8],[60.4,1.52],[60.4,2.4],[60.6,2.65],[60.7,2.9],[60.9,1.45],[61,5.03],[61.1,2.35],[61.2,.9],[61.3,1.8],[61.3,3.5],[61.4,2.65],[61.5,3.05],[61.5,1.72],[61.6,3.35],[61.7,2.85],[62,1.8],[62.2,2.5],[62.3,1.8],[62.4,2.9],[62.4,1.1],[62.6,3.05],[62.6,1.65],[62.8,.68],[62.9,2.4],[63,2.8],[63,1.5],[63.1,2],[63.3,3.3],[63.5,.55],[63.6,3.15],[63.7,2.5],[63.8,3.75],[63.9,1.9],[63.9,4.3],[64,1.25],[64.2,3],[64.2,3.35],[64.3,3.65],[64.5,2.05],[64.6,2.7],[64.7,4],[64.9,1.5],[65,3.05],[65,3.75],[65.1,.75],[65.2,1.15],[65.4,2.5],[65.5,3.5],[65.7,1.35],[65.9,3.15],[66,1],[66,2],[66.2,10.8],[66.2,5.3],[66.5,3],[66.6,.98],[66.6,2.25],[66.7,2.85],[66.8,4.25],[66.9,2.45],[67.1,1.9],[67.1,3.7],[67.3,1.1],[67.4,3.4],[67.5,3.1],[67.5,.95],[67.7,1.6],[67.7,3.8],[67.9,.65],[67.9,5.3],[68,2.15],[68.2,4.6],[68.2,4.5],[68.4,1.7],[68.5,2.85],[68.7,2.45],[68.8,3.7],[69,4.05],[69.1,1.95],[69.3,2.9],[69.5,2.3],[69.6,4.55],[69.7,5.03],[69.8,4.25],[70,1.2],[70,2.8],[70.1,3.25],[70.2,3.8],[70.4,2.3],[70.5,4.7],[70.7,1],[70.9,3.05],[71.3,1.3],[71.3,4.12],[71.5,2.3],[71.7,3.4],[71.8,4.15],[72,2],[72.2,4.1],[72.4,2.8],[72.6,1.7],[72.7,4.65],[72.8,3.95],[73,4.5],[73.1,2.45],[73.2,.85],[73.3,3.3],[73.4,1.4],[73.5,.75],[73.5,5.9],[73.7,3.4],[73.8,2.1],[74,.8],[74,4],[74.2,2.85],[74.4,5.65],[74.4,1.5],[74.5,.75],[74.6,3.9],[74.9,3.3],[75,1.15],[75.1,2.4],[75.2,4.25],[75.3,1.6],[75.4,4.4],[75.6,.6],[75.8,3.75],[75.9,2.8],[76,1.1],[76.2,5.25],[76.4,3.5],[76.5,1.35],[76.6,4.3],[76.8,6.65],[76.9,2.3],[77,1.1],[77.2,4.35],[77.4,7.12],[77.4,.78],[77.5,2.75],[77.7,4.3],[77.8,1],[78,3.4],[78.2,.9],[78.3,4.35],[78.6,1.95],[78.9,3.25],[79.1,.55],[79.3,4.25],[79.4,1.55],[79.5,4.85],[79.5,5.25],[79.8,3.95],[79.7,6.95],[79.8,.62],[80,4.8],[80,5.15],[80.2,1.65],[80.3,.65],[80.4,4.4],[80.4,7],[80.6,3.3],[80.7,.85],[80.9,1.2],[81,5.05],[81,.45],[81.1,.55],[81.2,3.95],[81.4,2.55],[81.5,.75],[81.9,4.8],[82,.95],[82.2,5.4],[82.2,6.85],[82.3,4.55],[82.6,5.8],[82.7,1.15],[83,4.3],[83.3,2.35],[83.5,1],[83.9,4.95],[84,6.12],[84.2,5.1],[84.5,1.35],[84.6,4.65],[84.9,5.55],[85.3,1.35],[85.5,1.05],[85.7,3.65],[85.8,1.7],[86.5,4.7],[86.7,1.4],[86.9,4.8],[87,6.45],[87.1,4.45],[87.3,3.55],[87.7,5.8],[87.8,5.35],[87.9,1.9],[87.9,4.45],[88.1,1.25],[88.4,1.4],[88.5,2.2],[88.8,4.35],[89,3.45],[89.4,2.8],[89.7,3],[89.8,3.25],[90.3,1.6],[91.1,3.55],[91.3,2.7],[91.4,1.05],[91.4,2],[91.4,2.25],[91.9,1.35],[91.9,4.3],[92.1,3.95],[92.8,4.1],[93.8,4.2],[94.3,2.75],[95.4,2],
[70.7,3.2],[71,2.4],[71.4,2.75],[72,1.65],[72.3,3.15],[72.7,2.35],[73,1.9],[73.3,2.65],[73.7,2.95],[74.1,2.25],[74.3,1.35],[74.7,2.65],[74.9,1.75],[75.1,3.15],[75.3,2.05],[75.5,2.9],[75.7,3.6],[75.9,1.7],[76.1,2.5],[76.3,3.15],[76.4,2.05],[76.5,1.6],[76.7,2.85],[76.8,3.85],[77,2.25],[77.1,3.3],[77.3,1.4],[77.4,2.55],[77.6,3.7],[77.7,1.9],[77.9,2.9],[78.1,3.6],[78.2,1.35],[78.4,2.4],[78.5,1.75],[78.6,3],[78.8,1.15],[78.9,3.75],[79,2.3],[79.2,1.65],[79.3,2.85],[79.5,1.2],[79.6,3.2],[79.7,2],[79.9,2.55],[80,1.4],[80.1,3.55],[80.2,2.2],[80.3,2.9],[80.5,1.75],[80.6,2.35],[80.7,3.65],[80.8,1.4],[80.9,2.75],[81.1,2],[81.2,3.2],[81.3,1.6],[81.4,2.4],[81.6,1.2],[81.7,3.75],[81.9,2.15],[82,2.85],[82.2,1.7],[82.4,3.15],[82.6,2.3],[82.8,1.4],[82.9,3.75],[83.1,2.75],[83.3,1.75],[83.5,3.05],[83.7,2],[83.9,2.8],[84.1,1.65],[84.2,3.3],[84.4,2.3],[84.6,1.9],[84.7,3.6],[84.9,2.6],[85,3.1],[85.2,1.7],[85.3,2.3],[85.5,2.95],[85.7,1.6],[85.9,2.65],[86,1.9],[86.2,3.35],[86.4,2.75],[86.6,1.6],[86.9,2.5],[87.1,1.75],[87.4,3],[87.6,2.7],[87.8,3.7],[88,2.8],[88.2,4],[62,2.25],[62.8,2.7],[63.3,2.1],[63.8,2.65],[64.3,1.55],[64.8,2.2],[65.3,1.7],[65.8,2.3],[66.3,1.95],[66.8,1.7],[67.4,2.05],[67.8,2.5],[68.3,1.9],[68.8,2.3],[69.4,1.75],[69.9,2.55],
[62.6,2.1],[63.2,2.55],[64,2.3],[64.5,2.9],[65.1,2.25],[65.5,2.85],[66.1,2.6],[67,2.7],[67.6,2.3],[68.1,3.2],[68.6,1.95],[69,3.3],[69.6,2.7],[70.2,2.15],[70.6,2.6],[71,3.45],[71.2,1.9],[71.6,3.15],[71.9,2.6],[72.2,2.25],[72.5,3.5],[72.9,2.85],[73.2,2.1],[73.5,2.4],[73.9,1.5],[74.1,3.05],[74.4,2.5],[74.6,2.1],[74.8,2.95],[75,2.6],[75.2,3.5],[75.4,1.95],[75.6,2.35],[75.8,1.35],[76,3.1],[76.2,2.3],[76.4,2.75],[76.6,3.55],[76.7,1.85],[76.9,3.25],[77,2.65],[77.2,3.75],[77.3,2.2],[77.5,1.6],[77.6,2.95],[77.8,2.4],[77.9,3.85],[78,1.7],[78.2,2.65],[78.3,3.2],[78.5,2.05],[78.7,2.65],[78.8,3.45],[79,1.5],[79.1,2.85],[79.3,1.95],[79.4,2.4],[79.6,3.65],[79.8,1.75],[79.9,2.95],[80,2.15],[80.2,1],[80.3,2.45],[80.4,3.25],[80.6,1.4],[80.8,2.15],[81,3.45],[81.2,1.3],[81.3,2.8],[81.5,3.6],[81.6,2],[81.8,2.5],[82.1,2.2],[82.3,3.9],[82.5,2.65],[82.7,1.9],[83,3.35],[83.2,2.1],[83.4,2.75],[83.7,3.7],[84,2.25],[84.3,2.7],[84.5,1.6],[84.8,3.15],[85.1,2.2],[85.4,3.35],[85.6,2.5],[85.9,3.1],[86.2,2.2],[86.5,3],[86.8,1.9],[87.2,2.3],[87.5,2.1]
];
const ttauMCI = [
[51.4,2.25],[55.9,2.05],[57.6,.5],[60.6,2.75],[61.1,3.9],[63.2,1.53],[63.7,1.03],[64.5,2.3],[66,2.9],[66.5,2.33],[66.7,1.55],[68,1.3],[68.2,1.5],[68.5,1.24],[68.7,3.6],[69.8,1.33],[69.9,3.5],[70.6,1.58],[71.2,2.57],[71.7,3.72],[71.8,1.68],[72.4,.84],[72.4,2.97],[72.6,2.07],[73,2.19],[73.1,4.3],[73.5,3.8],[73.6,3.1],[73.8,3.17],[73.9,1.17],[73.9,3.65],[74.4,3.69],[75.5,1.72],[75.7,3.44],[76.4,1.81],[76.5,1.51],[76.9,4.74],[77.3,1.64],[77.3,2.14],[77.6,3.26],[78,1.46],[78,2.39],[78.1,2.96],[78.3,4.08],[78.6,2.94],[78.9,.5],[79,2.34],[79.3,.77],[79.5,2.98],[80.2,1.86],[80.8,2],[81.5,1.75],[81.4,3.32],[81.7,4.19],[81.8,5.53],[82,5.66],[81.9,3.58],[82,1.58],[82.2,.64],[82.1,3.3],[82.2,1.25],[82.3,2.55],[82.4,11.88],[82.7,3.38],[83.3,4.45],[83.4,4.06],[83.4,3.8],[83.6,3.67],[83.5,3.17],[83.6,3.4],[83.8,3.36],[83.6,1.47],[83.6,2.51],[84,2.45],[84.1,2.82],[84.3,1.11],[84.7,2.87],[84.7,4.84],[85.4,4.89],[85.4,4.3],[85,3.79],[85.7,4.74],[85.7,4.42],[85.7,1.31],[85.9,2.59],[85.9,4.16],[86,3.47],[86,3.86],[86.1,5.44],[86.7,4.13],[86.6,2.16],[86.7,3.03],[86.8,11.78],[86.9,3.35],[87.8,2.53],[87.8,3.2],[87.5,2.71],[88.5,2.5],[88.5,2.27],[88.6,3.92],[89.1,6.13],[89.3,3.3],[89.8,4.1],[90,3.58],[90.1,3.28],[90.3,6.39],[91.8,1.71],[92,2.89]
];

const panels = [
  { label: 'A\u03B242 (pg/mL)', cu: abeta42CU, mci: abeta42MCI, ticks: abeta42Ticks,
    box: [78, 6, 717, 503], titleX: 20, yMin: -1.31, yMax: 34.61, xMin: 48.98, xMax: 97.46, bottom: 569,
    notes: [['CU: 0.324 (p<0.001)', 289, 70], ['MCI/Dementia: 0.281 (p<0.001)', 290, 97]] },
  { label: 'A\u03B240 (pg/mL)', cu: abeta40CU, mci: abeta40MCI, ticks: abeta40Ticks,
    box: [824, 6, 1452, 503], titleX: 753, yMin: -6.7, yMax: 588.5, xMin: 49.03, xMax: 97.48, bottom: 569,
    notes: [['CU: 0.545 (p<0.001)', 1018, 77], ['MCI/Dementia: 0.398 (p<0.001)', 1018, 101]] },
  { label: 'A\u03B242/40', cu: ratioCU, mci: ratioMCI, ticks: ratioTicks, decimals: 2,
    box: [94, 590, 717, 1086], titleX: 19, yMin: -0.0066, yMax: 0.1663, xMin: 49.02, xMax: 97.5, bottom: 1152,
    notes: [['CU: \u22120.243 (p<0.001)', 299, 752], ['MCI/Dementia: \u22120.023 (p=0.788)', 299, 780]] },
  { label: 'NfL (pg/mL)', cu: nflCU, mci: nflMCI, ticks: nflTicks,
    box: [816, 590, 1452, 1086], titleX: 753, yMin: -9.25, yMax: 221.35, xMin: 49.05, xMax: 97.45, bottom: 1152,
    notes: [['CU: 0.695 (p<0.001)', 1026, 712], ['MCI/Dementia: 0.567 (p<0.001)', 1026, 744]] },
  { label: 'T\u2212tau (pg/mL)', cu: ttauCU, mci: ttauMCI, ticks: ttauTicks, decimals: 1,
    box: [87, 1172, 717, 1669], titleX: 19, yMin: -0.05, yMax: 12.46, xMin: 49.03, xMax: 97.48, bottom: 1735,
    notes: [['CU: 0.113 (p<0.001)', 295, 1283], ['MCI/Dementia: 0.391 (p<0.001)', 295, 1311]] }
];

// panel frame and the text written inside each plot
const framePlugin = {
  id: 'frame',
  afterDatasetsDraw(chart, args, opts) {
    const { ctx, chartArea: a } = chart;
    ctx.save();
    ctx.strokeStyle = '#1a1a1a';
    ctx.lineWidth = 2.2;
    ctx.strokeRect(a.left, a.top, a.right - a.left, a.bottom - a.top);
    ctx.fillStyle = '#000';
    ctx.font = '22.5px "Liberation Sans"';
    ctx.textAlign = 'center';
    ctx.textBaseline = 'middle';
    opts.notes.forEach(n => ctx.fillText(n[0], n[1] - opts.left, n[2] - opts.top));
    ctx.restore();
  }
};

function toPoints(list) {
  return list.map(p => ({ x: p[0], y: p[1] }));
}

panels.forEach(p => {
  const [l, t, r, b] = p.box;
  const left = p.titleX - 18;
  const top = t - 13;
  const right = r + 4;
  const c = document.createElement('canvas');
  c.width = right - left;
  c.height = p.bottom - top;
  c.style.left = left + 'px';
  c.style.top = top + 'px';
  c.style.width = (right - left) + 'px';
  c.style.height = (p.bottom - top) + 'px';
  document.body.appendChild(c);

  new Chart(c.getContext('2d'), {
    type: 'scatter',
    data: {
      datasets: [
        { label: 'CU', data: toPoints(p.cu), backgroundColor: '#F8766D', order: 1 },
        { label: 'MCI/Dementia', data: toPoints(p.mci), backgroundColor: '#00BFC4', order: 2 }
      ]
    },
    options: {
      responsive: false,
      animation: false,
      layout: { autoPadding: false, padding: { top: 4, right: right - r, left: 0, bottom: 0 } },
      elements: { point: { radius: 5.4, borderWidth: 0, hoverRadius: 5.4 } },
      plugins: {
        legend: { display: false },
        tooltip: { enabled: false },
        frame: { notes: p.notes, left: left, top: top }
      },
      scales: {
        x: {
          type: 'linear',
          min: p.xMin,
          max: p.xMax,
          afterBuildTicks: s => { s.ticks = ageTicks.map(v => ({ value: v })); },
          afterFit: s => { s.height = p.bottom - b; },
          border: { display: false },
          grid: { drawOnChartArea: false, tickLength: 5, tickColor: '#333', tickWidth: 1.5 },
          ticks: { color: '#4D4D4D', font: { size: 17, family: 'Liberation Sans' }, padding: 2, maxRotation: 0, autoSkip: false },
          title: { display: true, text: 'Age', color: '#000', padding: 0, font: { size: 31, family: 'Liberation Sans' } }
        },
        y: {
          type: 'linear',
          min: p.yMin,
          max: p.yMax,
          afterBuildTicks: s => { s.ticks = p.ticks.map(v => ({ value: v })); },
          afterFit: s => { s.width = l - left; },
          border: { display: false },
          grid: { drawOnChartArea: false, tickLength: 5, tickColor: '#333', tickWidth: 1.5 },
          ticks: {
            color: '#4D4D4D', font: { size: 17, family: 'Liberation Sans' }, padding: 3, autoSkip: false,
            callback: v => p.decimals ? v.toFixed(p.decimals) : String(v)
          },
          title: { display: true, text: p.label, color: '#000', padding: 0, font: { size: 30.5, family: 'Liberation Sans' } }
        }
      }
    },
    plugins: [framePlugin]
  });
});
</script>
</body>
</html>
